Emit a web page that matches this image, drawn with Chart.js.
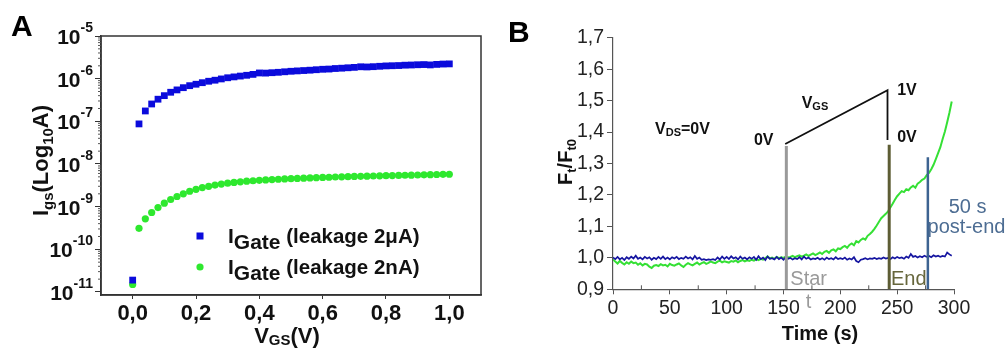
<!DOCTYPE html>
<html><head><meta charset="utf-8">
<script src="https://cdn.jsdelivr.net/npm/chart.js@4/dist/chart.umd.min.js"></script>
<style>
html,body{margin:0;padding:0;background:#fff;}
#wrap{position:relative;width:1008px;height:349px;overflow:hidden;background:#fff;}
#ca{position:absolute;left:0;top:0;width:500px;height:349px;}
#cb{position:absolute;left:500px;top:0;width:508px;height:349px;}
</style></head><body>
<div id="wrap"><canvas id="ca" width="500" height="349"></canvas><canvas id="cb" width="508" height="349"></canvas></div>
<script>
// ---------- Panel A data ----------
const vgs = [0,0.02,0.04,0.06,0.08,0.10,0.12,0.14,0.16,0.18,0.20,0.22,0.24,0.26,0.28,0.30,0.32,0.34,0.36,0.38,0.40,0.42,0.44,0.46,0.48,0.50,0.52,0.54,0.56,0.58,0.60,0.62,0.64,0.66,0.68,0.70,0.72,0.74,0.76,0.78,0.80,0.82,0.84,0.86,0.88,0.90,0.92,0.94,0.96,0.98,1.00];
const iGate2uA = [1.9e-11,8.7e-8,1.75e-7,2.55e-7,3.3e-7,4.0e-7,4.8e-7,5.45e-7,6.15e-7,6.85e-7,7.4e-7,8.05e-7,8.7e-7,9.2e-7,9.85e-7,1.05e-6,1.10e-6,1.15e-6,1.20e-6,1.26e-6,1.36e-6,1.35e-6,1.38e-6,1.41e-6,1.45e-6,1.49e-6,1.52e-6,1.55e-6,1.58e-6,1.62e-6,1.66e-6,1.68e-6,1.73e-6,1.76e-6,1.80e-6,1.84e-6,1.90e-6,1.88e-6,1.91e-6,1.95e-6,1.99e-6,2.01e-6,2.03e-6,2.07e-6,2.09e-6,2.12e-6,2.14e-6,2.10e-6,2.16e-6,2.20e-6,2.22e-6];
const iGate2nA = [1.5e-11,3.1e-10,5.2e-10,7.3e-10,9.5e-10,1.21e-9,1.47e-9,1.73e-9,2.0e-9,2.3e-9,2.55e-9,2.8e-9,3.0e-9,3.2e-9,3.38e-9,3.55e-9,3.7e-9,3.83e-9,3.95e-9,4.05e-9,4.15e-9,4.23e-9,4.31e-9,4.39e-9,4.47e-9,4.54e-9,4.60e-9,4.66e-9,4.72e-9,4.78e-9,4.84e-9,4.89e-9,4.95e-9,5.00e-9,5.05e-9,5.10e-9,5.15e-9,5.19e-9,5.23e-9,5.27e-9,5.31e-9,5.36e-9,5.40e-9,5.44e-9,5.48e-9,5.52e-9,5.57e-9,5.62e-9,5.68e-9,5.72e-9,5.75e-9];
const xTicksA = [0,0.2,0.4,0.6,0.8,1.0];
const yExpA = [-5,-6,-7,-8,-9,-10,-11];
const legendA = ['(leakage 2\u03bcA)','(leakage 2nA)'];

// ---------- Panel B data ----------
const timeS = [0,2,4,6,8,10,12,14,16,18,20,22,24,26,28,30,32,34,36,38,40,42,44,46,48,50,52,54,56,58,60,62,64,66,68,70,72,74,76,78,80,82,84,86,88,90,92,94,96,98,100,102,104,106,108,110,112,114,116,118,120,122,124,126,128,130,132,134,136,138,140,142,144,146,148,150,152,154,156,158,160,162,164,166,168,170,172,174,176,178,180,182,184,186,188,190,192,194,196,198,200,202,204,206,208,210,212,214,216,218,220,222,224,226,228,230,232,234,236,238,240,242,244,246,248,250,252,254,256,258,260,262,264,266,268,270,272,274,276,278,280,282,284,286,288,290,292,294,296,298];
const fGreen = [0.995,0.988,0.982,0.990,0.984,0.979,0.986,0.981,0.988,0.983,
0.985,0.978,0.983,0.976,0.981,0.979,0.972,0.968,0.975,0.977,
0.974,0.980,0.976,0.978,0.973,0.981,0.977,0.975,0.979,0.982,
0.976,0.971,0.978,0.983,0.979,0.976,0.981,0.985,0.979,0.983,
0.986,0.981,0.984,0.989,0.985,0.983,0.988,0.991,0.986,0.989,
0.987,0.985,0.990,0.988,0.992,0.986,0.990,0.993,0.989,0.992,
0.990,0.994,0.991,0.996,0.993,0.997,0.994,0.999,1.005,0.998,
1.001,0.997,1.003,0.999,1.002,1.000,1.004,1.001,1.003,1.006,
1.002,1.005,1.008,1.004,1.007,1.011,1.006,1.010,1.014,1.009,
1.013,1.017,1.012,1.019,1.022,1.016,1.024,1.027,1.021,1.030,
1.028,1.034,1.038,1.032,1.041,1.046,1.040,1.053,1.049,1.057,
1.062,1.058,1.070,1.076,1.083,1.092,1.103,1.115,1.126,1.133,
1.140,1.148,1.160,1.172,1.185,1.196,1.204,1.212,1.209,1.218,
1.215,1.224,1.229,1.223,1.236,1.241,1.248,1.252,1.263,1.270,
1.282,1.296,1.314,1.333,1.352,1.378,1.402,1.431,1.462,1.497];
const fBlue = [1.001,0.996,1.003,0.995,1.000,0.993,1.002,0.997,1.004,0.998,
1.007,0.997,1.001,0.995,1.003,0.998,1.002,0.994,1.000,0.996,
1.003,0.997,1.004,0.996,1.001,0.995,1.002,0.998,1.003,0.996,
1.000,0.997,1.004,0.998,1.002,0.995,1.006,0.997,1.001,0.994,
0.996,0.993,0.995,0.994,0.996,0.993,1.001,0.995,1.004,0.997,
1.003,0.996,1.005,0.998,1.002,0.995,1.004,0.997,1.001,0.995,
1.002,0.997,1.003,0.994,1.005,0.996,1.001,0.993,1.004,0.997,
0.999,0.995,1.003,0.996,1.001,0.994,1.002,0.997,1.000,0.995,
0.999,0.996,1.002,0.995,1.004,0.997,1.001,0.995,0.998,0.996,
1.000,0.995,0.999,0.994,1.001,0.996,0.999,0.995,1.002,0.996,
0.999,0.996,1.001,0.994,0.998,0.995,1.002,0.990,0.986,0.994,
0.996,0.999,0.995,0.998,0.997,1.000,0.996,0.999,0.997,1.001,
0.998,1.000,0.996,1.002,0.998,1.003,0.999,1.001,0.997,1.004,
1.000,1.012,1.003,1.006,1.001,1.005,1.002,1.007,1.003,1.006,
1.002,1.008,1.004,1.007,1.003,1.006,1.004,1.017,1.011,1.007];
const xTicksB = [0,50,100,150,200,250,300];
const xMinorB = [25,75,125,175,225,275];
const yTicksB = [0.9,1.0,1.1,1.2,1.3,1.4,1.5,1.6,1.7];
// marker lines (time s, F/F0)
const startLineX = [152.5,152.5], startLineY = [0.9,1.356];
const endLineX = [243,243], endLineY = [0.9,1.36];
const postLineX = [277,277], postLineY = [0.9,1.32];
const rampX = [151.5,241.5,241.5], rampY = [1.362,1.533,1.375];

const FF = "'Liberation Sans', Arial, Helvetica, sans-serif";
function fnt(s){ return (s.bold===false?'':'bold ')+s.size+'px '+FF; }
function segW(ctx,segs){ let w=0; for(const s of segs){ctx.font=fnt(s); w+=ctx.measureText(s.t).width;} return w; }
function drawSegs(ctx,segs,x,y,color){
  let cx=x; ctx.textAlign='left'; ctx.textBaseline='alphabetic';
  for(const s of segs){ ctx.font=fnt(s); ctx.fillStyle=s.color||color; ctx.fillText(s.t,cx,y+(s.dy||0)); cx+=ctx.measureText(s.t).width; }
}
function drawRot(ctx,segs,bx,cy,color){
  const w=segW(ctx,segs); ctx.save(); ctx.translate(bx,cy); ctx.rotate(-Math.PI/2); drawSegs(ctx,segs,-w/2,0,color); ctx.restore();
}
const comma = v => Number(v).toFixed(1).replace('.',',');

// ---------- Chart A ----------
const BLUE_A = '#0b0bdc', GREEN_A = '#2ee82e';
const plugA = {
  id:'plugA',
  afterDraw(chart){
    const ctx=chart.ctx, ca=chart.chartArea, ys=chart.scales.y;
    ctx.save();
    ctx.strokeStyle='#333'; ctx.lineWidth=1.5;
    ctx.strokeRect(ca.left,ca.top,ca.right-ca.left,ca.bottom-ca.top);
    ctx.lineWidth=1; ctx.strokeStyle='#555';
    for(let e=-11;e<-5;e++) for(let m=2;m<=9;m++){
      const py=ys.getPixelForValue(m*Math.pow(10,e));
      ctx.beginPath(); ctx.moveTo(ca.left-3,py); ctx.lineTo(ca.left,py); ctx.stroke();
    }
    for(const e of yExpA){
      const py=ys.getPixelForValue(Math.pow(10,e));
      ctx.font='bold 14px '+FF; const ew=ctx.measureText(String(e)).width;
      const el=ca.left-8-ew;
      ctx.fillStyle='#111'; ctx.textAlign='left'; ctx.textBaseline='alphabetic';
      ctx.fillText(String(e),el,py-4);
      ctx.font='bold 21px '+FF; ctx.textAlign='right';
      ctx.fillText('10',el,py+8);
    }
    drawRot(ctx,[{t:'I',size:22},{t:'gs',size:15,dy:5},{t:'(Log',size:22},{t:'10',size:15,dy:5},{t:'A)',size:22}],48,(ca.top+ca.bottom)/2-5,'#111');
    const xt=[{t:'V',size:22},{t:'GS',size:15,dy:2},{t:'(V)',size:22}];
    drawSegs(ctx,xt,287-segW(ctx,xt)/2,343,'#111');
    const lx=ca.left+99, tx=ca.left+127;
    const rows=[ca.top+207, ca.top+238];
    ctx.fillStyle=BLUE_A; ctx.fillRect(lx-3.5,rows[0]-10.5,7,7);
    ctx.fillStyle=GREEN_A; ctx.beginPath(); ctx.arc(lx,rows[1]-7,3.6,0,Math.PI*2); ctx.fill();
    for(let i=0;i<2;i++){
      drawSegs(ctx,[{t:'I',size:21},{t:'Gate',size:21,dy:6},{t:' '+legendA[i],size:20.5}],tx,rows[i],'#111');
    }
    ctx.font='bold 30px '+FF; ctx.fillStyle='#000'; ctx.textAlign='left'; ctx.textBaseline='alphabetic';
    ctx.fillText('A',11,36);
    ctx.restore();
  }
};
new Chart(document.getElementById('ca'),{
  type:'scatter',
  data:{datasets:[
    {label:'I Gate (leakage 2\u03bcA)',data:vgs.map((v,i)=>({x:v,y:iGate2uA[i]})),pointStyle:'rect',pointRadius:4.8,backgroundColor:BLUE_A,borderWidth:0,showLine:false},
    {label:'I Gate (leakage 2nA)',data:vgs.map((v,i)=>({x:v,y:iGate2nA[i]})),pointStyle:'circle',pointRadius:3.6,backgroundColor:GREEN_A,borderWidth:0,showLine:false}
  ]},
  options:{
    responsive:false,animation:false,devicePixelRatio:1,
    layout:{padding:{left:0,right:19,top:36,bottom:0}},
    plugins:{legend:{display:false},tooltip:{enabled:false}},
    scales:{
      x:{type:'linear',min:-0.1,max:1.1,
        afterBuildTicks:s=>{s.ticks=xTicksA.map(v=>({value:v}));},
        afterFit:s=>{s.height=54;},
        ticks:{callback:v=>comma(v),font:{family:FF,size:22,weight:'bold'},color:'#111',padding:2,maxRotation:0,autoSkip:false},
        grid:{drawOnChartArea:false,drawTicks:true,tickLength:4,color:'#333'},
        border:{display:true,color:'#333',width:1.5}},
      y:{type:'logarithmic',min:8.5e-12,max:1e-5,
        afterBuildTicks:s=>{s.ticks=yExpA.map(e=>({value:Math.pow(10,e)}));},
        afterFit:s=>{s.width=101;},
        ticks:{display:false},
        grid:{drawOnChartArea:false,drawTicks:true,tickLength:6,color:'#333'},
        border:{display:true,color:'#333',width:1.5}}
    }
  },
  plugins:[plugA]
});

// ---------- Chart B ----------
const GREEN_B='#35e035', BLUE_B='#1515a0', GRAY_B='#9a9a9a', OLIVE_B='#5d5d34', STEEL_B='#3d6391';
const notesB = [
  {segs:[{t:'V',size:16},{t:'DS',size:11,dy:2},{t:'=0V',size:16}],x:37,y:1.395,color:'#111'},
  {segs:[{t:'0V',size:16}],x:124,y:1.359,color:'#111'},
  {segs:[{t:'V',size:16},{t:'GS',size:11,dy:2}],x:166,y:1.476,color:'#111'},
  {segs:[{t:'1V',size:16}],x:250,y:1.518,color:'#111'},
  {segs:[{t:'0V',size:16}],x:250,y:1.369,color:'#111'},
  {segs:[{t:'50 s',size:20,bold:false}],x:312,y:1.142,color:'#4d6d93',center:true},
  {segs:[{t:'post-end',size:20,bold:false}],x:311,y:1.079,color:'#4d6d93',center:true},
  {segs:[{t:'Star',size:20,bold:false}],x:156,y:0.913,color:'#9a9a9a'},
  {segs:[{t:'t',size:20,bold:false}],x:169.5,y:0.84,color:'#9a9a9a'},
  {segs:[{t:'End',size:20,bold:false}],x:244.5,y:0.913,color:'#66663c'}
];
const plugB = {
  id:'plugB',
  afterDraw(chart){
    const ctx=chart.ctx, ca=chart.chartArea, xs=chart.scales.x, ys=chart.scales.y;
    ctx.save();
    ctx.strokeStyle='#555'; ctx.lineWidth=1;
    for(const t of xMinorB){ const px=xs.getPixelForValue(t); ctx.beginPath(); ctx.moveTo(px,ca.bottom); ctx.lineTo(px,ca.bottom-4); ctx.stroke(); }
    for(const n of notesB){
      let px=xs.getPixelForValue(n.x); const py=ys.getPixelForValue(n.y);
      if(n.center) px-=segW(ctx,n.segs)/2;
      drawSegs(ctx,n.segs,px,py,n.color);
    }
    drawRot(ctx,[{t:'F',size:20},{t:'t',size:13,dy:4},{t:'/F',size:20},{t:'t0',size:13,dy:4}],72,162,'#111');
    const tt=[{t:'Time (s)',size:20}];
    drawSegs(ctx,tt,320-segW(ctx,tt)/2,340,'#111');
    ctx.font='bold 30px '+FF; ctx.fillStyle='#000'; ctx.textAlign='left';
    ctx.fillText('B',8,42);
    ctx.restore();
  }
};
const pts=(xa,ya)=>xa.map((x,i)=>({x:x,y:ya[i]}));
new Chart(document.getElementById('cb'),{
  type:'line',
  data:{datasets:[
    {label:'ramp',data:pts(rampX,rampY),borderColor:'#111',borderWidth:1.8,pointRadius:0,order:0,tension:0},
    {label:'start',data:pts(startLineX,startLineY),borderColor:GRAY_B,borderWidth:3,pointRadius:0,order:1},
    {label:'end',data:pts(endLineX,endLineY),borderColor:OLIVE_B,borderWidth:3,pointRadius:0,order:1},
    {label:'post',data:pts(postLineX,postLineY),borderColor:STEEL_B,borderWidth:2.5,pointRadius:0,order:1},
    {label:'blue',data:pts(timeS,fBlue),borderColor:BLUE_B,borderWidth:1.7,pointRadius:0,order:2,tension:0},
    {label:'green',data:pts(timeS,fGreen),borderColor:GREEN_B,borderWidth:2,pointRadius:0,order:3,tension:0}
  ]},
  options:{
    responsive:false,animation:false,devicePixelRatio:1,
    layout:{padding:{left:0,right:54,top:37.7,bottom:0}},
    plugins:{legend:{display:false},tooltip:{enabled:false}},
    scales:{
      x:{type:'linear',min:0,max:300,
        afterBuildTicks:s=>{s.ticks=xTicksB.map(v=>({value:v}));},
        afterFit:s=>{s.height=59.7;},
        ticks:{callback:v=>String(v),font:{family:FF,size:19.5},color:'#222',padding:3,maxRotation:0,autoSkip:false},
        grid:{drawOnChartArea:false,drawTicks:true,tickLength:5,color:'#555'},
        border:{display:true,color:'#555',width:1.2}},
      y:{type:'linear',min:0.9,max:1.7,
        afterBuildTicks:s=>{s.ticks=yTicksB.map(v=>({value:v}));},
        afterFit:s=>{s.width=113;},
        ticks:{callback:v=>comma(v),font:{family:FF,size:19.5},color:'#222',padding:3,autoSkip:false},
        grid:{drawOnChartArea:false,drawTicks:true,tickLength:6,color:'#555'},
        border:{display:true,color:'#555',width:1.2}}
    }
  },
  plugins:[plugB]
});
</script>
</body></html>
